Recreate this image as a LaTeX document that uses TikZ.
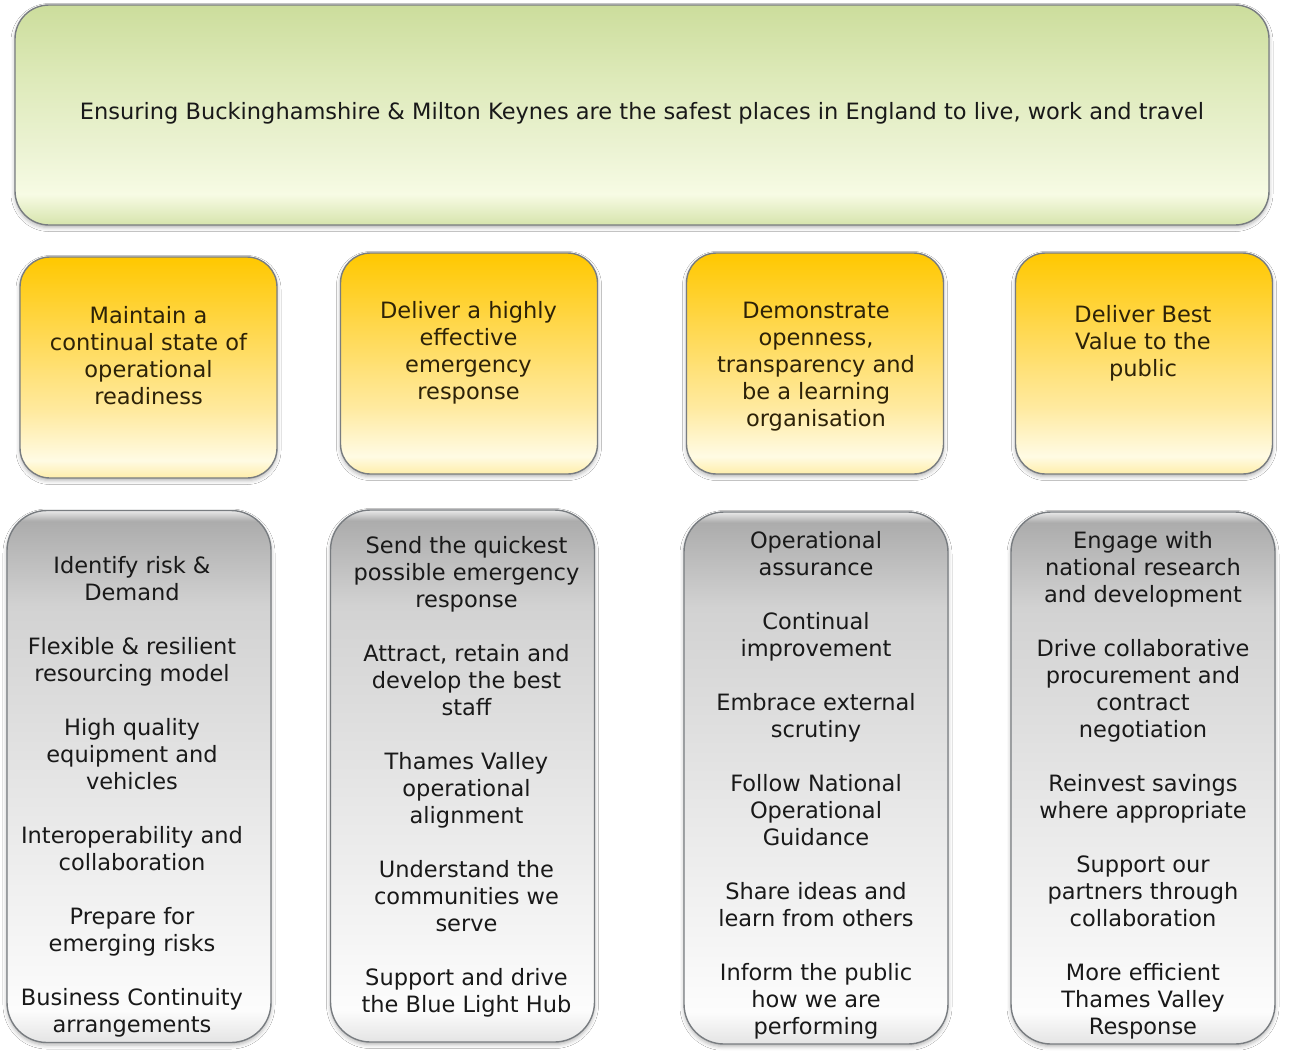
\documentclass[tikz,border=0pt]{standalone}
\usepackage{fontspec}
\setmainfont{DejaVu Sans}
\usetikzlibrary{shadows.blur}
\definecolor{gA}{RGB}{214,228,172}
\definecolor{gB}{RGB}{247,251,228}
\definecolor{gC}{RGB}{236,243,212}
\definecolor{gD}{RGB}{222,234,186}
\definecolor{gE}{RGB}{204,221,156}
\definecolor{yA}{RGB}{255,238,170}
\definecolor{yB}{RGB}{255,251,228}
\definecolor{yC}{RGB}{255,234,160}
\definecolor{yD}{RGB}{255,214,70}
\definecolor{yE}{RGB}{255,200,0}
\definecolor{sA}{RGB}{228,228,228}
\definecolor{sB}{RGB}{252,252,252}
\definecolor{sC}{RGB}{234,234,234}
\definecolor{sD}{RGB}{210,210,210}
\definecolor{sE}{RGB}{172,172,172}
\definecolor{edge}{RGB}{120,124,128}
\definecolor{txt}{RGB}{25,25,25}
\definecolor{ytxt}{RGB}{45,34,8}
\pgfdeclareverticalshading{greenshade}{100bp}{color(0bp)=(gA); color(25bp)=(gA); color(32bp)=(gB); color(42bp)=(gC); color(58bp)=(gD); color(75bp)=(gE); color(100bp)=(gE)}
\pgfdeclareverticalshading{yellowshade}{100bp}{color(0bp)=(yA); color(25bp)=(yA); color(29bp)=(yB); color(40bp)=(yC); color(60bp)=(yD); color(75bp)=(yE); color(100bp)=(yE)}
\pgfdeclareverticalshading{greyshade}{100bp}{color(0bp)=(sA); color(25bp)=(sA); color(28bp)=(sB); color(45bp)=(sC); color(66bp)=(sD); color(74bp)=(sE); color(75bp)=(sC); color(100bp)=(sC)}
\begin{document}
\begin{tikzpicture}[x=1pt,y=-1pt,
  panel/.style={rectangle, inner sep=0pt, draw=edge, line width=1.4pt,
    blur shadow={shadow xshift=0pt, shadow yshift=-2.5pt, shadow blur radius=4pt, shadow opacity=30}},
  topbox/.style={panel, rounded corners=34pt, shading=greenshade, minimum width=1254pt, minimum height=220pt},
  goalbox/.style={panel, rounded corners=30pt, shading=yellowshade, minimum width=257pt, minimum height=221pt},
  listbox/.style={panel, rounded corners=40pt, shading=greyshade, minimum width=264pt, minimum height=532pt},
  words/.style={inner sep=0pt, align=center, text=txt, font=\fontsize{22.5}{27}\selectfont},
  goalwords/.style={words, text=ytxt, anchor=north},
  listwords/.style={words, anchor=north}]
\useasboundingbox (0,0) rectangle (1290,1050);
\fill[white] (0,0) rectangle (1290,1050);
% top banner
\node[topbox] (top) at (642,115) {};
\node[words] (toptext) at (642,113) {Ensuring Buckinghamshire \& Milton Keynes are the safest places in England to live, work and travel};
% goal boxes
\node[goalbox] (g1) at (148.5,367.5) {};
\node[goalbox] (g2) at (469,363.5) {};
\node[goalbox] (g3) at (815,363.5) {};
\node[goalbox] (g4) at (1144,363.5) {};
\node[goalwords] (g1t) at (148.5,306) {Maintain a\\continual state of\\operational\\readiness};
\node[goalwords] (g2t) at (468.5,301) {Deliver a highly\\effective\\emergency\\response};
\node[goalwords] (g3t) at (816,302) {Demonstrate\\openness,\\transparency and\\be a learning\\organisation};
\node[goalwords] (g4t) at (1143,305) {Deliver Best\\Value to the\\public};
% list boxes
\node[listbox] (l1) at (139,776.5) {};
\node[listbox] (l2) at (462.5,776) {};
\node[listbox] (l3) at (816,778) {};
\node[listbox] (l4) at (1143,778) {};
\node[listwords] (l1t) at (132,556) {Identify risk \&\\Demand\\[27pt]Flexible \& resilient\\resourcing model\\[27pt]High quality\\equipment and\\vehicles\\[27pt]Interoperability and\\collaboration\\[27pt]Prepare for\\emerging risks\\[27pt]Business Continuity\\arrangements};
\node[listwords] (l2t) at (466.5,536) {Send the quickest\\possible emergency\\response\\[27pt]Attract, retain and\\develop the best\\staff\\[27pt]Thames Valley\\operational\\alignment\\[27pt]Understand the\\communities we\\serve\\[27pt]Support and drive\\the Blue Light Hub};
\node[listwords] (l3t) at (816,531) {Operational\\assurance\\[27pt]Continual\\improvement\\[27pt]Embrace external\\scrutiny\\[27pt]Follow National\\Operational\\Guidance\\[27pt]Share ideas and\\learn from others\\[27pt]Inform the public\\how we are\\performing};
\node[listwords] (l4t) at (1143,531) {Engage with\\national research\\and development\\[27pt]Drive collaborative\\procurement and\\contract\\negotiation\\[27pt]Reinvest savings\\where appropriate\\[27pt]Support our\\partners through\\collaboration\\[27pt]More efficient\\Thames Valley\\Response};
\end{tikzpicture}
\end{document}
